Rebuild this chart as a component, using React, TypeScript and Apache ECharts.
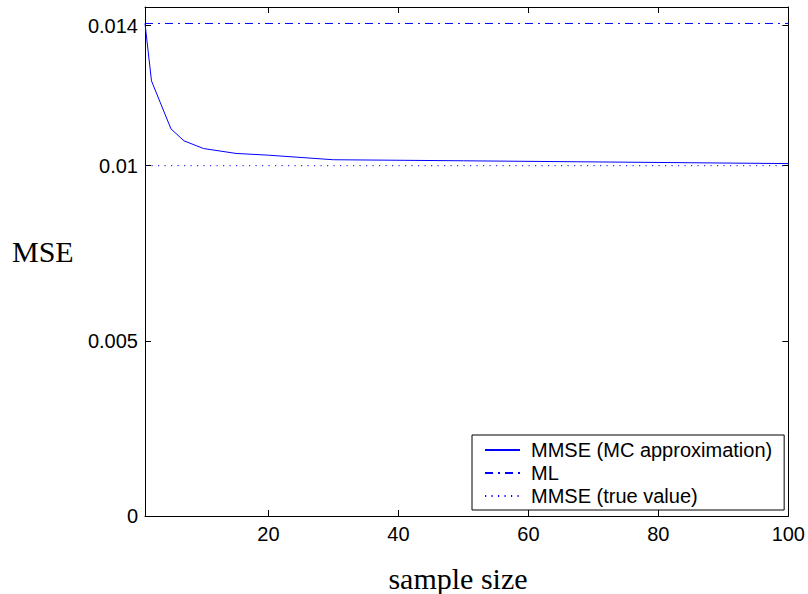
import React, { useEffect, useRef } from "react";
import * as echarts from "echarts";

const sampleSizes = [1, 2, 5, 7, 10, 15, 20, 30, 50, 75, 100];
const mmseApprox = [0.01406, 0.01242, 0.01105, 0.01071, 0.01049, 0.01035, 0.0103, 0.01017, 0.01014, 0.0101, 0.01006];
const mlValue = 0.01406;
const mmseTrue = 0.01;
const xTicks = [20, 40, 60, 80, 100];
const yTicks = [0, 0.005, 0.01, 0.014];
const seriesNames = ["MMSE (MC approximation)", "ML", "MMSE (true value)"];

const FONT = "'Liberation Sans', Arial, Helvetica, sans-serif";
const SERIF = "'Liberation Serif', 'Times New Roman', serif";

export default function App() {
  const ref = useRef<HTMLDivElement>(null);
  useEffect(() => {
    if (!ref.current) return;
    const chart = echarts.init(ref.current, null, { renderer: "svg" });
    const xMin = 1, xMax = 100, yMin = 0, yMax = 0.01453;
    const axisCommon = {
      type: "value" as const,
      splitLine: { show: false },
      axisLine: { show: true, onZero: false, lineStyle: { color: "#000", width: 1 } },
    };
    chart.setOption({
      animation: false,
      backgroundColor: "#fff",
      grid: { left: 145, right: 18, top: 7, bottom: 78, containLabel: false },
      xAxis: [
        {
          ...axisCommon,
          min: xMin,
          max: xMax,
          position: "bottom",
          axisTick: { show: true, inside: true, length: 6, customValues: xTicks, lineStyle: { color: "#000" } },
          axisLabel: { show: true, customValues: xTicks, margin: 8, fontSize: 20, color: "#000", fontFamily: FONT },
        },
        {
          ...axisCommon,
          min: xMin,
          max: xMax,
          position: "top",
          axisTick: { show: true, inside: true, length: 6, customValues: xTicks, lineStyle: { color: "#000" } },
          axisLabel: { show: false },
        },
      ],
      yAxis: [
        {
          ...axisCommon,
          min: yMin,
          max: yMax,
          position: "left",
          axisTick: { show: true, inside: true, length: 6, customValues: yTicks, lineStyle: { color: "#000" } },
          axisLabel: {
            show: true,
            customValues: yTicks,
            margin: 7,
            fontSize: 20,
            color: "#000",
            fontFamily: FONT,
            formatter: (v: number) => String(+v.toFixed(4)),
          },
        },
        {
          ...axisCommon,
          min: yMin,
          max: yMax,
          position: "right",
          axisTick: { show: true, inside: true, length: 6, customValues: yTicks, lineStyle: { color: "#000" } },
          axisLabel: { show: false },
        },
      ],
      legend: {
        show: true,
        orient: "vertical",
        left: 472,
        top: 435,
        width: 312,
        padding: [5, 12, 4, 12],
        itemGap: 3,
        itemWidth: 35,
        itemHeight: 20,
        borderColor: "#000",
        borderWidth: 1,
        borderRadius: 0,
        backgroundColor: "#fff",
        itemStyle: { opacity: 0 },
        data: seriesNames,
        textStyle: { fontSize: 20, color: "#000", fontFamily: FONT, lineHeight: 20, padding: [0, 0, 0, 6] },
      },
      graphic: [
        {
          type: "text",
          left: 12,
          top: 236,
          style: { text: "MSE", fontSize: 30, fontFamily: SERIF, fill: "#000" },
        },
        {
          type: "text",
          x: 458,
          y: 578,
          style: { text: "sample size", fontSize: 30, fontFamily: SERIF, fill: "#000", align: "center", verticalAlign: "middle" },
        },
      ],
      series: [
        {
          name: seriesNames[0],
          type: "line",
          symbol: "none",
          data: sampleSizes.map((x, i) => [x, mmseApprox[i]]),
          lineStyle: { color: "#0000ff", width: 1 },
          itemStyle: { color: "#0000ff" },
        },
        {
          name: seriesNames[1],
          type: "line",
          symbol: "none",
          data: [[xMin, mlValue], [xMax, mlValue]],
          lineStyle: { color: "#0000ff", width: 1, type: [8, 5, 2, 5] },
          itemStyle: { color: "#0000ff" },
        },
        {
          name: seriesNames[2],
          type: "line",
          symbol: "none",
          data: [[xMin, mmseTrue], [xMax, mmseTrue]],
          lineStyle: { color: "#0000ff", width: 1, type: [1.2, 5.3] },
          itemStyle: { color: "#0000ff" },
        },
      ],
    });
    return () => chart.dispose();
  }, []);
  return <div ref={ref} style={{ width: 808, height: 594, position: "absolute", left: 0, top: 0 }} />;
}
